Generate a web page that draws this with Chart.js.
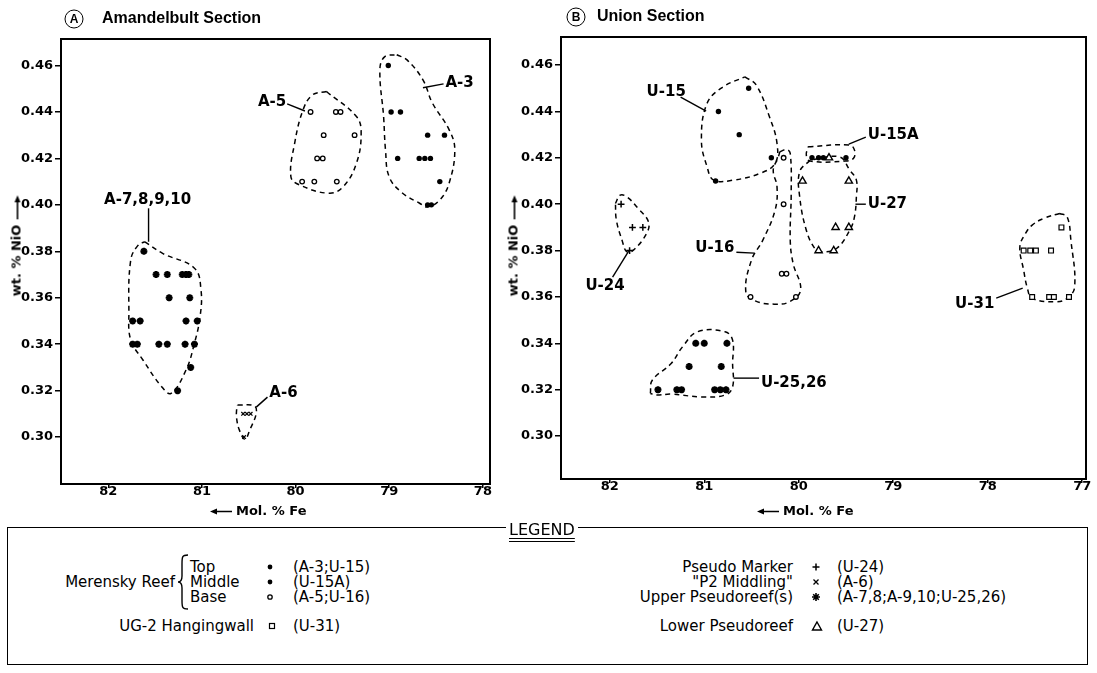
<!DOCTYPE html>
<html>
<head>
<meta charset="utf-8">
<title>NiO vs Mol. % Fe</title>
<script src="https://cdn.jsdelivr.net/npm/chart.js@4.4.1/dist/chart.umd.min.js"></script>
<style>
  html, body { margin: 0; padding: 0; background: #fff; }
  #page { position: relative; width: 1097px; height: 673px; overflow: hidden; font-family: "DejaVu Sans", sans-serif; color: #000; }
  canvas { position: absolute; top: 0; }
  .t { position: absolute; white-space: nowrap; transform: translateY(-50%); line-height: 1; }
  .r { transform: translate(-100%, -50%); }
  .title { font-family: "Liberation Sans", sans-serif; font-weight: bold; font-size: 16px; }
  .circ { position: absolute; width: 17px; height: 17px; border: 1.8px solid #000; border-radius: 50%; font: bold 12px "Liberation Sans", sans-serif; text-align: center; line-height: 17px; transform: translate(-50%, -50%); }
  .axt { font-weight: bold; font-size: 13px; }
  .axt svg { vertical-align: middle; margin-right: 4px; }
  .yt { position: absolute; white-space: nowrap; font-weight: bold; font-size: 13px; line-height: 1; transform: translate(-50%, -50%) rotate(-90deg); }
  .yt svg { vertical-align: middle; margin-left: 5px; }
  .lg { font-size: 15px; }
  .sym { position: absolute; transform: translate(-50%, -50%); line-height: 0; }
  #legend { position: absolute; left: 7px; top: 527px; width: 1081px; height: 138px; border: 1.5px solid #000; box-sizing: border-box; }
  #legend-title { position: absolute; left: 506px; top: 521px; padding: 0 3px; background: #fff; font-size: 16px; line-height: 1.1; text-decoration: underline double; text-underline-offset: 3px; }
</style>
</head>
<body>
<div id="page">
  <canvas id="chart-a" width="530" height="525" style="left:0px"></canvas>
  <canvas id="chart-b" width="597" height="525" style="left:500px"></canvas>

  <!-- panel titles -->
  <div class="circ" style="left:74px;top:19px">A</div>
  <div class="t title" style="left:102px;top:18px">Amandelbult Section</div>
  <div class="circ" style="left:576px;top:17px">B</div>
  <div class="t title" style="left:597px;top:16px">Union Section</div>

  <!-- axis titles -->
  <div class="yt" style="left:16px;top:246px">wt. % NiO<svg width="24" height="8"><path d="M0 4H19" stroke="#000" stroke-width="1.6"/><path d="M24 4L17 1V7Z"/></svg></div>
  <div class="yt" style="left:513px;top:246px">wt. % NiO<svg width="24" height="8"><path d="M0 4H19" stroke="#000" stroke-width="1.6"/><path d="M24 4L17 1V7Z"/></svg></div>
  <div class="t axt" style="left:210px;top:510px"><svg width="22" height="8"><path d="M5 4H22" stroke="#000" stroke-width="1.6"/><path d="M0 4L7 1V7Z"/></svg>Mol. % Fe</div>
  <div class="t axt" style="left:757px;top:510px"><svg width="22" height="8"><path d="M5 4H22" stroke="#000" stroke-width="1.6"/><path d="M0 4L7 1V7Z"/></svg>Mol. % Fe</div>

  <!-- legend -->
  <div id="legend"></div>
  <div id="legend-title">LEGEND</div>

  <div class="t lg r" style="left:175px;top:582px">Merensky Reef</div>
  <svg style="position:absolute;left:177px;top:554px" width="12" height="56"><path d="M11 1C5 1 5 3 5 10V22C5 26 3 28 1 28C3 28 5 30 5 34V46C5 53 5 55 11 55" fill="none" stroke="#000" stroke-width="1.4"/></svg>
  <div class="t lg" style="left:190px;top:567px">Top</div>
  <div class="t lg" style="left:190px;top:582px">Middle</div>
  <div class="t lg" style="left:190px;top:597px">Base</div>
  <div class="sym" style="left:270px;top:567px"><svg width="8" height="8"><circle cx="4" cy="4" r="2.4"/></svg></div>
  <div class="sym" style="left:270px;top:582px"><svg width="8" height="8"><circle cx="4" cy="4" r="2.4"/></svg></div>
  <div class="sym" style="left:270px;top:597px"><svg width="8" height="8"><circle cx="4" cy="4" r="2.2" fill="none" stroke="#000" stroke-width="1.3"/></svg></div>
  <div class="t lg" style="left:293px;top:567px">(A-3;U-15)</div>
  <div class="t lg" style="left:293px;top:582px">(U-15A)</div>
  <div class="t lg" style="left:293px;top:597px">(A-5;U-16)</div>
  <div class="t lg r" style="left:254px;top:626px">UG-2 Hangingwall</div>
  <div class="sym" style="left:272px;top:626px"><svg width="8" height="8"><rect x="1.5" y="1.5" width="5" height="5" fill="none" stroke="#000" stroke-width="1.2"/></svg></div>
  <div class="t lg" style="left:293px;top:626px">(U-31)</div>

  <div class="t lg r" style="left:793px;top:567px">Pseudo Marker</div>
  <div class="t lg r" style="left:793px;top:582px">"P2 Middling"</div>
  <div class="t lg r" style="left:793px;top:597px">Upper Pseudoreef(s)</div>
  <div class="t lg r" style="left:793px;top:626px">Lower Pseudoreef</div>
  <div class="sym" style="left:816px;top:567px"><svg width="10" height="10"><path d="M5 1.5V8.5M1.5 5H8.5" stroke="#000" stroke-width="1.5"/></svg></div>
  <div class="sym" style="left:816px;top:582px"><svg width="9" height="9"><path d="M2 2L7 7M7 2L2 7" stroke="#000" stroke-width="1.3"/></svg></div>
  <div class="sym" style="left:816px;top:597px"><svg width="10" height="10"><path d="M5 1V9M1 5H9M2.2 2.2L7.8 7.8M7.8 2.2L2.2 7.8" stroke="#000" stroke-width="1.6"/></svg></div>
  <div class="sym" style="left:817px;top:626px"><svg width="12" height="11"><path d="M6 1.5L10.5 9.5H1.5Z" fill="none" stroke="#000" stroke-width="1.4"/></svg></div>
  <div class="t lg" style="left:837px;top:567px">(U-24)</div>
  <div class="t lg" style="left:837px;top:582px">(A-6)</div>
  <div class="t lg" style="left:837px;top:597px">(A-7,8;A-9,10;U-25,26)</div>
  <div class="t lg" style="left:837px;top:626px">(U-27)</div>
</div>

<script>
/* === data: [Mol. % Fe, wt. % NiO] === */
const yTicks = [0.30, 0.32, 0.34, 0.36, 0.38, 0.40, 0.42, 0.44, 0.46];
const xTicksA = [82, 81, 80, 79, 78];
const xTicksB = [82, 81, 80, 79, 78, 77];

// (A) Amandelbult
const a3 = [[79.01,0.46],[78.98,0.44],[78.88,0.44],[78.59,0.43],[78.41,0.43],[78.91,0.42],[78.68,0.42],[78.62,0.42],[78.56,0.42],[78.46,0.41],[78.59,0.40],[78.55,0.40]];
const a5 = [[79.84,0.44],[79.57,0.44],[79.52,0.44],[79.70,0.43],[79.37,0.43],[79.77,0.42],[79.71,0.42],[79.93,0.41],[79.80,0.41],[79.56,0.41]];
const a6 = [[80.56,0.31],[80.52,0.31],[80.48,0.31],[80.55,0.30]];
const a7to10 = [[81.62,0.38],[81.49,0.37],[81.37,0.37],[81.21,0.37],[81.17,0.37],[81.14,0.37],[81.35,0.36],[81.13,0.36],[81.74,0.35],[81.66,0.35],[81.17,0.35],[81.05,0.35],[81.74,0.34],[81.69,0.34],[81.46,0.34],[81.37,0.34],[81.18,0.34],[81.08,0.34],[81.12,0.33],[81.26,0.32]];

// (B) Union
const u15 = [[80.53,0.45],[80.85,0.44],[80.63,0.43],[80.29,0.42],[80.88,0.41]];
const u15a = [[79.86,0.42],[79.79,0.42],[79.74,0.42],[79.50,0.42]];
const u16 = [[80.16,0.42],[80.16,0.40],[80.18,0.37],[80.13,0.37],[80.51,0.36],[80.03,0.36]];
const u27 = [[79.68,0.42],[79.96,0.41],[79.47,0.41],[79.61,0.39],[79.47,0.39],[79.79,0.38],[79.63,0.38]];
const u24 = [[81.88,0.40],[81.76,0.39],[81.65,0.39],[81.79,0.38]];
const u2526 = [[81.49,0.32],[81.29,0.32],[81.24,0.32],[80.89,0.32],[80.83,0.32],[80.77,0.32],[81.16,0.33],[80.82,0.33],[81.09,0.34],[81.00,0.34],[80.76,0.34]];
const u31 = [[77.22,0.39],[77.62,0.38],[77.55,0.38],[77.49,0.38],[77.33,0.38],[77.53,0.36],[77.35,0.36],[77.30,0.36],[77.14,0.36]];

// hand-drawn group outlines (dashed)
const envA3 = [[78.92,0.4646],[78.81,0.4624],[78.64,0.4538],[78.54,0.4439],[78.36,0.4323],[78.30,0.4237],[78.36,0.4094],[78.46,0.4021],[78.59,0.3991],[78.68,0.4008],[78.86,0.4051],[79.00,0.4120],[79.04,0.4237],[79.06,0.4379],[79.10,0.4581],[79.05,0.4637]];
const envA5 = [[79.67,0.4488],[79.35,0.4380],[79.30,0.4309],[79.35,0.4179],[79.49,0.4079],[79.64,0.4050],[79.96,0.4086],[80.05,0.4121],[80.01,0.4265],[79.92,0.4409],[79.82,0.4473]];
const envA6 = [[80.62,0.3138],[80.44,0.3134],[80.42,0.3102],[80.49,0.3030],[80.54,0.2990],[80.60,0.3030],[80.63,0.3081],[80.63,0.3116]];
const envA7to10 = [[81.61,0.3841],[81.42,0.3791],[81.08,0.3727],[81.01,0.3633],[81.02,0.3518],[81.08,0.3404],[81.17,0.3289],[81.33,0.3188],[81.43,0.3217],[81.63,0.3332],[81.76,0.3418],[81.78,0.3533],[81.76,0.3763],[81.68,0.3827]];

const envU15 = [[80.57,0.4549],[80.45,0.4514],[80.31,0.4377],[80.23,0.4262],[80.25,0.4176],[80.41,0.4133],[80.69,0.4104],[80.90,0.4104],[80.97,0.4161],[81.03,0.4276],[80.97,0.4435],[80.80,0.4506]];
const envU15a = [[79.90,0.4248],[79.46,0.4255],[79.41,0.4233],[79.42,0.4198],[79.51,0.4186],[79.88,0.4186],[79.92,0.4212]];
const envU16 = [[80.20,0.4226],[80.13,0.4236],[80.09,0.4219],[80.08,0.4047],[80.09,0.3845],[80.06,0.3745],[79.98,0.3630],[80.10,0.3579],[80.26,0.3569],[80.46,0.3583],[80.56,0.3622],[80.50,0.3759],[80.38,0.3845],[80.25,0.3975],[80.23,0.4075],[80.27,0.4147],[80.22,0.4199]];
const envU27 = [[79.88,0.4190],[79.99,0.4140],[79.99,0.4032],[79.92,0.3888],[79.83,0.3809],[79.76,0.3795],[79.60,0.3809],[79.46,0.3888],[79.41,0.3946],[79.39,0.4032],[79.39,0.4104],[79.46,0.4147],[79.57,0.4204]];
const envU24 = [[81.94,0.4003],[81.89,0.4039],[81.82,0.4032],[81.70,0.3982],[81.59,0.3924],[81.61,0.3874],[81.75,0.3802],[81.82,0.3795],[81.87,0.3845],[81.93,0.3931]];
const envU2526 = [[81.57,0.3184],[81.55,0.3241],[81.35,0.3313],[81.23,0.3385],[81.07,0.3450],[80.78,0.3450],[80.70,0.3414],[80.70,0.3313],[80.70,0.3212],[80.78,0.3177],[81.03,0.3169],[81.35,0.3181],[81.51,0.3177]];
const envU31 = [[77.24,0.3960],[77.16,0.3946],[77.12,0.3845],[77.08,0.3644],[77.16,0.3594],[77.28,0.3579],[77.53,0.3594],[77.58,0.3637],[77.62,0.3716],[77.66,0.3816],[77.60,0.3874],[77.53,0.3910],[77.40,0.3940]];

// group names and their leader lines
const notesA = [
  { text: 'A-3', at: [78.40, 0.4525], align: 'left', from: [78.64, 0.4504], to: [78.42, 0.4521] },
  { text: 'A-5', at: [80.10, 0.4443], align: 'right', from: [80.09, 0.4435], to: [79.90, 0.4404] },
  { text: 'A-7,8,9,10', at: [81.58, 0.4021], align: 'center', from: [81.57, 0.3985], to: [81.57, 0.3841] },
  { text: 'A-6', at: [80.28, 0.3190], align: 'left', from: [80.42, 0.3129], to: [80.30, 0.3172] },
];
const notesB = [
  { text: 'U-15', at: [81.61, 0.4482], align: 'left', from: [81.25, 0.4462], to: [80.98, 0.4401] },
  { text: 'U-15A', at: [79.27, 0.4298], align: 'left', from: [79.47, 0.4259], to: [79.29, 0.4289] },
  { text: 'U-27', at: [79.27, 0.4000], align: 'left', from: [79.40, 0.4000], to: [79.29, 0.4000] },
  { text: 'U-16', at: [80.68, 0.3810], align: 'right', from: [80.66, 0.3793], to: [80.47, 0.3789] },
  { text: 'U-24', at: [82.05, 0.3647], align: 'center', from: [81.97, 0.3686], to: [81.80, 0.3798] },
  { text: 'U-31', at: [77.93, 0.3569], align: 'right', from: [77.91, 0.3595], to: [77.63, 0.3638] },
  { text: 'U-25,26', at: [80.40, 0.3230], align: 'left', from: [80.69, 0.3250], to: [80.42, 0.3250] },
];

/* === symbols === */
const SYM = {
  top:    { pointStyle: 'circle', pointRadius: 2.7, backgroundColor: '#000', borderColor: '#000', borderWidth: 0 },
  middle: { pointStyle: 'circle', pointRadius: 2.7, backgroundColor: '#000', borderColor: '#000', borderWidth: 0 },
  base:   { pointStyle: 'circle', pointRadius: 2.3, backgroundColor: '#fff', borderColor: '#000', borderWidth: 1.3 },
  ug2:    { pointStyle: 'rect', pointRadius: 3.4, backgroundColor: '#fff', borderColor: '#000', borderWidth: 1.2 },
  marker: { pointStyle: 'cross', pointRadius: 3.4, borderColor: '#000', borderWidth: 1.5 },
  p2:     { pointStyle: 'crossRot', pointRadius: 2.6, borderColor: '#000', borderWidth: 1.2 },
  upper:  { pointStyle: 'star', pointRadius: 3.5, borderColor: '#000', borderWidth: 2.2 },
  lower:  { pointStyle: 'triangle', pointRadius: 4.2, backgroundColor: '#fff', borderColor: '#000', borderWidth: 1.4 },
};

const toXY = rows => rows.map(([x, y]) => ({ x, y }));
const pts = (rows, sym) => ({ data: toXY(rows), showLine: false, ...SYM[sym] });
const env = rows => ({
  data: toXY([...rows, rows[0]]), showLine: true, pointRadius: 0,
  borderColor: '#000', borderWidth: 1.5, borderDash: [5, 4], tension: 0.4, fill: false,
});

// box outline, names and leader lines
const notesPlugin = {
  id: 'notes',
  afterDatasetsDraw(chart, args, opts) {
    const { ctx, chartArea: a, scales: { x, y } } = chart;
    ctx.save();
    ctx.strokeStyle = '#000';
    ctx.lineWidth = 2;
    ctx.strokeRect(a.left, a.top, a.width, a.height);
    ctx.lineWidth = 1.4;
    ctx.fillStyle = '#000';
    ctx.font = 'bold 15px "DejaVu Sans"';
    ctx.textBaseline = 'middle';
    (opts.items || []).forEach(n => {
      ctx.beginPath();
      ctx.moveTo(x.getPixelForValue(n.from[0]), y.getPixelForValue(n.from[1]));
      ctx.lineTo(x.getPixelForValue(n.to[0]), y.getPixelForValue(n.to[1]));
      ctx.stroke();
      ctx.textAlign = n.align;
      ctx.fillText(n.text, x.getPixelForValue(n.at[0]), y.getPixelForValue(n.at[1]));
    });
    ctx.restore();
  }
};

const tickFont = { family: 'DejaVu Sans', weight: 'bold', size: 13 };

function makeChart(id, cfg) {
  return new Chart(document.getElementById(id), {
    type: 'scatter',
    data: { datasets: cfg.datasets },
    options: {
      responsive: false,
      animation: false,
      devicePixelRatio: 1,
      layout: { padding: { top: cfg.top, right: cfg.right, left: 0, bottom: 0 } },
      plugins: { legend: { display: false }, tooltip: { enabled: false }, notes: { items: cfg.notes } },
      scales: {
        x: {
          type: 'linear', reverse: true, min: cfg.xMin, max: cfg.xMax,
          afterBuildTicks: s => { s.ticks = cfg.xTicks.map(v => ({ value: v })); },
          afterFit: s => { s.height = cfg.xHeight; },
          grid: { drawOnChartArea: false, tickLength: 4, color: '#000', lineWidth: 1.5 },
          border: { color: '#000', width: 2 },
          ticks: { font: tickFont, color: '#000', padding: -4, maxRotation: 0, autoSkip: false, callback: v => String(v) },
        },
        y: {
          type: 'linear', min: cfg.yMin, max: cfg.yMax,
          afterBuildTicks: s => { s.ticks = yTicks.map(v => ({ value: v })); },
          afterFit: s => { s.width = 61; },
          grid: { drawOnChartArea: false, tickLength: 6, color: '#000', lineWidth: 1.5 },
          border: { color: '#000', width: 2 },
          ticks: { font: tickFont, color: '#000', padding: 2, autoSkip: false, callback: v => v.toFixed(2) },
        },
      },
    },
    plugins: [notesPlugin],
  });
}

makeChart('chart-a', {
  top: 39, right: 40, xHeight: 41,
  xMin: 77.924, xMax: 82.505, yMin: 0.2798, yMax: 0.4714, xTicks: xTicksA,
  notes: notesA,
  datasets: [
    pts(a3, 'top'), pts(a5, 'base'), pts(a6, 'p2'), pts(a7to10, 'upper'),
    env(envA3), env(envA5), env(envA6), env(envA7to10),
  ],
});

makeChart('chart-b', {
  top: 37, right: 11, xHeight: 46,
  xMin: 76.96, xMax: 82.516, yMin: 0.2815, yMax: 0.4721, xTicks: xTicksB,
  notes: notesB,
  datasets: [
    pts(u15, 'top'), pts(u15a, 'middle'), pts(u16, 'base'), pts(u27, 'lower'),
    pts(u24, 'marker'), pts(u2526, 'upper'), pts(u31, 'ug2'),
    env(envU15), env(envU15a), env(envU16), env(envU27), env(envU24), env(envU2526), env(envU31),
  ],
});
</script>
</body>
</html>
